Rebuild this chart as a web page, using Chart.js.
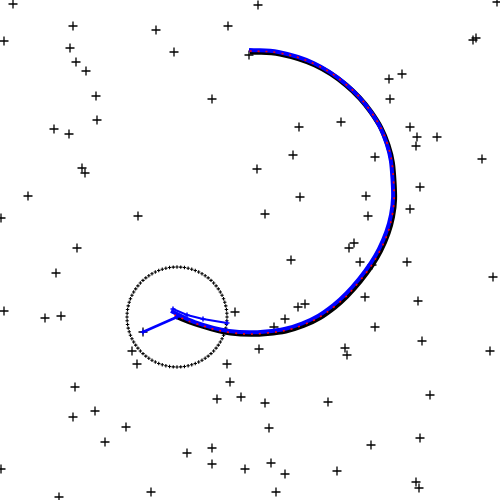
<!DOCTYPE html>
<html>
<head>
<meta charset="utf-8">
<script src="https://cdn.jsdelivr.net/npm/chart.js@4"></script>
<style>
html,body{margin:0;padding:0;background:#fff;}
#wrap{width:500px;height:500px;position:relative;}
</style>
</head>
<body>
<div id="wrap"><canvas id="c"></canvas></div>
<script>
// Landmarks (black + markers)
const landmarkX = [13,73,156,4,70,76,86,96,97,54,69,82,85,
  258,228,174,249,212,299,293,257,341,
  497,473,476,402,389,390,410,417,437,416,375,482,
  28,1,138,77,56,4,45,61,
  300,265,366,368,420,410,354,349,291,360,407,493,372,365,418,305,298,285,274,375,422,259,345,347,490,
  235,132,137,227,143,
  75,230,217,241,265,430,
  73,95,126,105,187,212,212,245,1,59,151,
  328,269,420,371,271,285,337,416,419,276];
const landmarkY = [4,26,30,41,48,62,71,96,120,129,134,168,173,
  5,26,52,55,99,127,155,169,122,
  2,40,38,74,79,99,127,137,137,146,157,159,
  196,218,216,248,273,311,318,316,
  197,214,196,216,187,209,243,248,260,262,262,277,265,297,301,304,307,319,327,327,341,349,348,355,351,
  312,351,364,364,332,
  387,382,399,397,403,395,
  417,411,427,442,453,448,464,469,469,497,492,
  402,428,438,445,463,474,471,482,488,492];

// True trajectory (black)
const trueX = [250,280,315,346,371,388,394,392.5,380.5,360.5,335,303.5,267.5,230.5,194.5,175];
const trueY = [52,54,65,85,112,145,181,217,251,281,307,325.5,333.5,333,323.5,316];
// Filter estimate (red)
const redX = [249.5,279.5,314.5,345.5,370.5,387.5,393.5,392,380,360,334.5,303,267,230,194,174.5];
const redY = [51,53,64,84,111,144.5,180.5,216.5,250.5,280.5,306.5,325,333,332.5,323,315];
// Second estimate (blue)
const blueX = [249,278.5,313.5,344.5,369.5,386.5,392.5,391,379,359,333.5,302,266,229,193,171];
const blueY = [50,52,63,83,110,143,179,215,249,279,305,323.5,331.5,331,321.5,311];
// Blue observation rays near the end
const ray1X = [177,143];
const ray1Y = [317,332];
const ray2X = [173,187,203,227];
const ray2Y = [309,315,319,323];
// Uncertainty circle
const circleCenterX = 177, circleCenterY = 317, circleRadius = 50;

const pts = (xs, ys) => xs.map((x, i) => ({x, y: ys[i]}));

const circlePlugin = {
  id: 'circlePlugin',
  beforeDatasetsDraw(chart) {
    const ctx = chart.ctx;
    const sx = chart.scales.x, sy = chart.scales.y;
    const cx = sx.getPixelForValue(circleCenterX);
    const cy = sy.getPixelForValue(circleCenterY);
    const r = Math.abs(sx.getPixelForValue(circleCenterX + circleRadius) - cx);
    const n = 84, h = 1.7;
    ctx.save();
    ctx.strokeStyle = '#000';
    ctx.lineWidth = 1.1;
    for (let i = 0; i < n; i++) {
      const a = i / n * Math.PI * 2;
      const px = cx + r * Math.cos(a), py = cy + r * Math.sin(a);
      ctx.beginPath();
      ctx.moveTo(px - h, py); ctx.lineTo(px + h, py);
      ctx.moveTo(px, py - h); ctx.lineTo(px, py + h);
      ctx.stroke();
    }
    ctx.restore();
  }
};

new Chart(document.getElementById('c'), {
  type: 'scatter',
  data: {
    datasets: [
      { label: 'ray2', data: pts(ray2X, ray2Y), showLine: true, borderColor: '#0000ff', borderWidth: 2,
        pointStyle: 'cross', pointRadius: 2.5, pointBorderColor: '#0000ff', pointBorderWidth: 1.5, order: 0 },
      { label: 'ray1', data: pts(ray1X, ray1Y), showLine: true, borderColor: '#0000ff', borderWidth: 2.5,
        pointStyle: 'cross', pointRadius: 2.5, pointBorderColor: '#0000ff', pointBorderWidth: 1.5, order: 1 },
      { label: 'red', data: pts(redX, redY), showLine: true, borderColor: '#ff0000', borderWidth: 1.6,
        borderDash: [2, 6], pointRadius: 0, tension: 0.4, order: 2 },
      { label: 'blue', data: pts(blueX, blueY), showLine: true, borderColor: '#0000ff', borderWidth: 4,
        pointRadius: 0, tension: 0.4, order: 3 },
      { label: 'true', data: pts(trueX, trueY), showLine: true, borderColor: '#000000', borderWidth: 5,
        pointRadius: 0, tension: 0.4, order: 4 },
      { label: 'landmarks', data: pts(landmarkX, landmarkY), showLine: false,
        pointStyle: 'cross', pointRadius: 4.5, pointBorderColor: '#000', pointBorderWidth: 1.3,
        pointBackgroundColor: '#000', order: 5 }
    ]
  },
  options: {
    responsive: true,
    maintainAspectRatio: false,
    animation: false,
    events: [],
    layout: { padding: 0, autoPadding: false },
    plugins: { legend: { display: false }, tooltip: { enabled: false } },
    scales: {
      x: { type: 'linear', min: 0, max: 500, display: false },
      y: { type: 'linear', min: 0, max: 500, reverse: true, display: false }
    }
  },
  plugins: [circlePlugin]
});
</script>
</body>
</html>
